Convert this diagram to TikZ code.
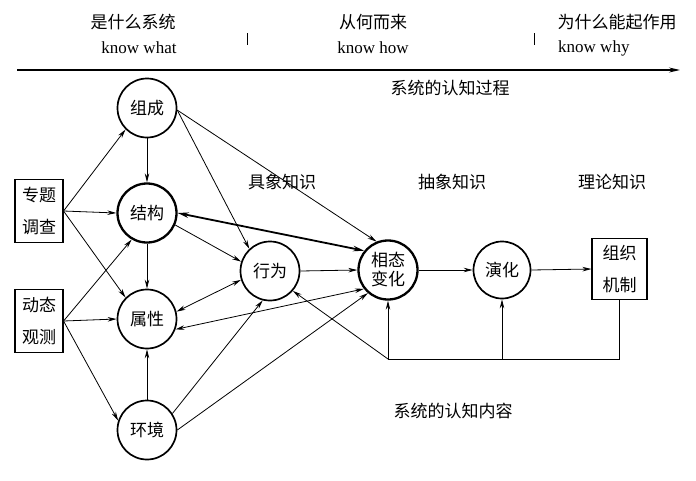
\documentclass[tikz,border=0pt]{standalone}
\usepackage{fontspec}
\setmainfont{Liberation Serif}
\newfontfamily\cjk{Noto Sans CJK SC}
\usetikzlibrary{arrows.meta}
\begin{document}
\begin{tikzpicture}[x=1pt,y=-1pt,
  circ/.style={circle,draw,line width=1.7pt,minimum size=59pt,inner sep=0pt,font=\cjk\fontsize{17}{22}\selectfont,align=center},
  thickcirc/.style={circ,line width=2.3pt},
  boxn/.style={draw,line width=1.1pt,inner sep=0pt,font=\cjk\fontsize{17}{32}\selectfont,align=center},
  lbl/.style={font=\cjk\fontsize{17}{20}\selectfont,inner sep=0pt},
  eng/.style={font=\fontsize{17}{19}\selectfont,inner sep=0pt},
  tip/.style={-{Stealth[length=9pt,width=4.5pt]}},
  conn/.style={tip,line width=0.8pt},
  bconn/.style={{Stealth[length=9pt,width=4.5pt]}-{Stealth[length=9pt,width=4.5pt]},line width=0.8pt},
  thickconn/.style={{Stealth[length=11pt,width=5.5pt]}-{Stealth[length=11pt,width=5.5pt]},line width=1.8pt}
]
\useasboundingbox[fill=white] (0,0) rectangle (696,480);

% top axis
\node[lbl] (t1) at (133,22) {是什么系统};
\node[eng] (e1) at (139,48) {know what};
\node[lbl] (t2) at (373,22) {从何而来};
\node[eng] (e2) at (373,48) {know how};
\node[lbl] (t3) at (617,22) {为什么能起作用};
\node[eng,anchor=west] (e3) at (558,48) {know why};
\coordinate (k1a) at (247,33); \coordinate (k1b) at (247,45);
\coordinate (k2a) at (534,33); \coordinate (k2b) at (534,45);
\draw[line width=1pt] (k1a) -- (k1b);
\draw[line width=1pt] (k2a) -- (k2b);
\coordinate (al) at (17,70); \coordinate (ar) at (680,70);
\draw[line width=1.2pt,-{Stealth[length=11pt,width=5pt]}] (al) -- (ar);
\node[lbl] (proc) at (450,88) {系统的认知过程};

% section labels
\node[lbl] (l1) at (282,182) {具象知识};
\node[lbl] (l2) at (452,182) {抽象知识};
\node[lbl] (l3) at (612,182) {理论知识};
\node[lbl] (l4) at (453,411) {系统的认知内容};

% nodes
\node[circ] (zc) at (147,108) {组成};
\node[thickcirc] (jg) at (147,213) {结构};
\node[circ] (sx) at (147,319) {属性};
\node[circ] (hj) at (147,430) {环境};
\node[circ] (xw) at (270,271) {行为};
\node[thickcirc] (xt) at (388,270) {相态\\[-3pt]变化};
\node[circ,minimum size=57pt] (yh) at (502,270) {演化};
\node[boxn,minimum width=48pt,minimum height=63pt] (zt) at (39,211) {专题\\调查};
\node[boxn,minimum width=48pt,minimum height=63pt] (dt) at (39,321) {动态\\观测};
\node[boxn,minimum width=55pt,minimum height=61pt] (jz) at (619.5,269) {组织\\机制};

% left inputs
\draw[conn] (zt.east) -- (zc.225);
\draw[conn] (zt.east) -- (jg.west);
\draw[conn] (zt.east) -- (sx.135);
\draw[conn] (dt.east) -- (jg.240);
\draw[conn] (dt.east) -- (sx.west);
\draw[conn] (dt.east) -- (hj.162);

% left column
\draw[conn] (zc.south) -- (jg.north);
\draw[conn] (jg.south) -- (sx.north);
\draw[conn] (hj.north) -- (sx.south);

% to behaviour / phase change
\draw[conn] (zc.-4) -- (xw.133);
\draw[conn] (zc.-4) -- (xt.112);
\draw[thickconn] (jg.east) -- (xt.141);
\draw[conn] (jg.-23) -- (xw.162);
\draw[bconn] (sx.14) -- (xw.197);
\draw[bconn] (sx.-20) -- (xt.218);
\draw[conn] (hj.33) -- (xw.256);
\draw[conn] (hj.east) -- (xt.229);
\draw[conn] (xw.east) -- (xt.west);
\draw[conn] (xt.east) -- (yh.west);
\draw[conn] (yh.east) -- (jz.west);

% feedback
\coordinate (fbL) at (388,359);
\coordinate (fbM) at (502,359);
\draw[line width=0.8pt] (jz.south) |- (fbL);
\draw[conn] (fbL) -- (xt.south);
\draw[conn] (fbM) -- (yh.south);
\draw[conn] (fbL) -- (xw.-41);
\end{tikzpicture}
\end{document}
